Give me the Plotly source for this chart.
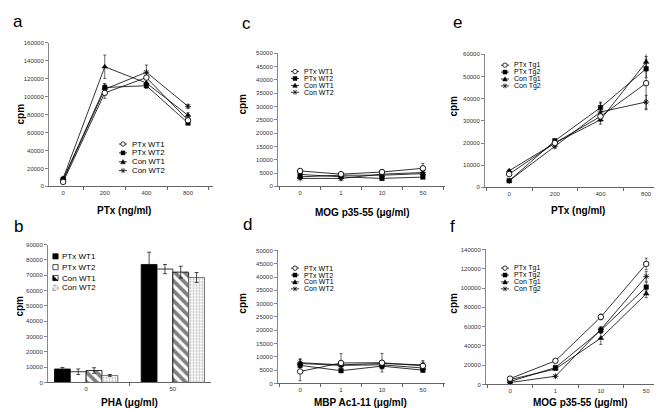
import plotly.graph_objects as go

W, H = 662, 409
def px(x): return x / W
def py(y): return 1 - y / H

# ---------------- data ----------------
series_wt = ["PTx WT1", "PTx WT2", "Con WT1", "Con WT2"]
series_tg = ["PTx Tg1", "PTx Tg2", "Con Tg1", "Con Tg2"]

# panel a: PTx (ng/ml)
a_cats = ["0", "200", "400", "800"]
a_vals = [[5000, 104000, 121000, 73500],
          [8000, 110000, 112000, 70500],
          [9000, 133000, 115000, 79000],
          [7000, 108000, 127000, 89000]]
a_err = [[1500, 6000, 5000, 3000],
         [1000, 4000, 3000, 2000],
         [1500, 13000, 5000, 3000],
         [1000, 6000, 8000, 2000]]

# panel b: PHA (ug/ml), bars
b_cats = ["0", "50"]
b_vals = [[8800, 77000], [7000, 74000], [7800, 72000], [4600, 68500]]
b_err = [[1000, 8000], [1800, 3000], [1800, 3800], [600, 3200]]

# panel c: MOG p35-55
c_cats = ["0", "1", "10", "50"]
c_vals = [[5800, 4600, 5400, 6800],
          [4500, 3600, 3000, 3500],
          [3600, 4200, 4200, 4800],
          [3000, 3000, 4600, 5200]]
c_err = [[500, 400, 800, 1800],
         [400, 400, 400, 500],
         [400, 400, 500, 500],
         [400, 800, 500, 500]]

# panel d: MBP Ac1-11
d_cats = ["0", "1", "10", "50"]
d_vals = [[4500, 7700, 7800, 6600],
          [6800, 4800, 6500, 5000],
          [7500, 6800, 7000, 5800],
          [7800, 7000, 7500, 7000]]
d_err = [[3500, 3500, 3500, 2000],
         [700, 600, 1000, 700],
         [1500, 1000, 1500, 1000],
         [1500, 1000, 1000, 1000]]

# panel e: PTx (ng/ml), Tg
e_cats = ["0", "200", "400", "800"]
e_vals = [[6000, 20000, 32000, 47000],
          [3000, 21000, 36000, 53500],
          [7500, 20000, 30500, 56500],
          [3000, 18500, 34000, 38500]]
e_err = [[600, 1000, 2000, 12000],
         [500, 800, 2500, 4000],
         [600, 800, 2000, 4000],
         [500, 800, 4000, 3000]]

# panel f: MOG p35-55, Tg
f_cats = ["0", "1", "10", "50"]
f_vals = [[6000, 24500, 70000, 125000],
          [3000, 17500, 56000, 101000],
          [5000, 16000, 48000, 94000],
          [2000, 8500, 57000, 112000]]
f_err = [[1000, 1500, 3000, 6000],
         [600, 1500, 3000, 5000],
         [600, 1500, 6500, 4000],
         [500, 1000, 3000, 5000]]

# ---------------- styles ----------------
FONT = "Liberation Sans, Arial, sans-serif"
marker_styles = [
    dict(symbol="circle", size=5.5, color="white", line=dict(color="black", width=0.9)),
    dict(symbol="square", size=4.5, color="black", line=dict(color="black", width=0.5)),
    dict(symbol="triangle-up", size=5, color="black", line=dict(color="black", width=0.5)),
    dict(symbol="asterisk-open", size=5, color="black", line=dict(color="black", width=0.8)),
]

fig = go.Figure()

def add_lines(cats, vals, errs, axn):
    xa = "x" if axn == 1 else f"x{axn}"
    ya = "y" if axn == 1 else f"y{axn}"
    for i in [3, 2, 1, 0]:
        fig.add_trace(go.Scatter(
            x=cats, y=vals[i], mode="lines+markers",
            line=dict(color="black", width=0.8),
            marker=marker_styles[i],
            error_y=dict(type="data", array=errs[i], color="black", thickness=0.6, width=1.5),
            xaxis=xa, yaxis=ya, showlegend=False))

add_lines(a_cats, a_vals, a_err, 1)
add_lines(c_cats, c_vals, c_err, 3)
add_lines(d_cats, d_vals, d_err, 4)
add_lines(e_cats, e_vals, e_err, 5)
add_lines(f_cats, f_vals, f_err, 6)

bar_markers = [
    dict(color="black", line=dict(color="black", width=0.8)),
    dict(color="white", line=dict(color="black", width=0.8)),
    dict(color="white", line=dict(color="black", width=0.8),
         pattern=dict(shape="\\", fgcolor="black", bgcolor="white", size=7, solidity=0.55)),
    dict(color="white", line=dict(color="#555", width=0.8),
         pattern=dict(shape=".", fgcolor="#777", bgcolor="white", size=3, solidity=0.4)),
]
for i in range(4):
    fig.add_trace(go.Bar(
        x=b_cats, y=b_vals[i], name=series_wt[i], marker=bar_markers[i],
        error_y=dict(type="data", array=b_err[i], color="black", thickness=0.7, width=2),
        xaxis="x2", yaxis="y2", showlegend=False))

# ---------------- axes ----------------
panels = {
    # axn: (x0, x1, ytop, ybot, xrange, ymax, dtick)
    1: (41, 205, 32, 178, [-0.34, 3.6], 160000, 20000),
    2: (40, 203, 237, 377, [-0.44, 1.44], 90000, 10000),
    3: (270, 437, 43, 178, [-0.54, 3.54], 50000, 5000),
    4: (270, 437, 243, 378, [-0.54, 3.54], 50000, 5000),
    5: (477, 655, 44, 179, [-0.53, 3.37], 60000, 10000),
    6: (478, 655, 242, 379, [-0.53, 3.37], 140000, 20000),
}
tickfont = dict(family=FONT, size=6, color="#333")
layout = {}
for n, (x0, x1, yt, yb, xr, ymax, dt) in panels.items():
    xk = "xaxis" if n == 1 else f"xaxis{n}"
    yk = "yaxis" if n == 1 else f"yaxis{n}"
    ya = "y" if n == 1 else f"y{n}"
    xa = "x" if n == 1 else f"x{n}"
    layout[xk] = dict(domain=[px(x0), px(x1)], anchor=ya, type="category",
                      range=xr, showline=True, linecolor="#666", linewidth=1,
                      ticks="outside", tickson="boundaries", ticklen=3,
                      tickcolor="#666", tickfont=tickfont, showgrid=False,
                      zeroline=False, fixedrange=True)
    layout[yk] = dict(domain=[py(yb), py(yt)], anchor=xa, range=[0, ymax],
                      dtick=dt, showline=True, linecolor="#888", linewidth=1,
                      ticks="outside", ticklen=3, tickcolor="#888",
                      tickfont=tickfont, showgrid=False, zeroline=False,
                      tickformat="d", fixedrange=True)

fig.update_layout(**layout)
fig.update_layout(width=W, height=H, margin=dict(l=0, r=0, t=0, b=0),
                  paper_bgcolor="white", plot_bgcolor="white",
                  barmode="group", bargap=0.27, bargroupgap=0,
                  font=dict(family=FONT, color="black"))

ann = []
shapes = []
def text(x, y, s, size, bold=False, angle=0, xanchor="center", family=FONT, color="black"):
    ann.append(dict(x=px(x), y=py(y), xref="paper", yref="paper", text=(f"<b>{s}</b>" if bold else s),
                    showarrow=False, font=dict(family=family, size=size, color=color),
                    textangle=angle, xanchor=xanchor, yanchor="middle"))

# panel letters
for (x, y, s) in [(10, 11, "a"), (10, 219, "b"), (238, 13, "c"), (239, 217, "d"), (449, 12, "e"), (444, 219, "f")]:
    text(x, y, s, 17)

# axis titles
for (x, y, s) in [(116, 202, "PTx (ng/ml)"), (121, 397, "PHA (μg/ml)"), (354, 205, "MOG p35-55 (μg/ml)"),
                  (352, 397, "MBP Ac1-11 (μg/ml)"), (570, 202, "PTx (ng/ml)"), (572, 397, "MOG p35-55 (μg/ml)")]:
    text(x, y, s, 10, bold=True)
for (x, y) in [(12, 105), (12, 300), (235, 95), (235, 297), (446, 97), (446, 297)]:
    text(x, y, "cpm", 10, bold=True, angle=-90)

# line legends: small line segment + marker drawn as shapes
def line_legend(mx, tx, ys, names, fs):
    for i, (y, nm) in enumerate(zip(ys, names)):
        shapes.append(dict(type="line", xref="paper", yref="paper", x0=px(mx - 4), x1=px(mx + 4),
                           y0=py(y), y1=py(y), line=dict(color="black", width=0.8)))
        r = 2.2
        if i == 0:
            shapes.append(dict(type="circle", xref="paper", yref="paper", x0=px(mx - r), x1=px(mx + r),
                               y0=py(y + r), y1=py(y - r), fillcolor="white", line=dict(color="black", width=0.8)))
        elif i == 1:
            shapes.append(dict(type="rect", xref="paper", yref="paper", x0=px(mx - 2), x1=px(mx + 2),
                               y0=py(y + 2), y1=py(y - 2), fillcolor="black", line=dict(color="black", width=0.5)))
        elif i == 2:
            shapes.append(dict(type="path", xref="paper", yref="paper",
                               path=f"M{px(mx - 2.3)},{py(y + 2)} L{px(mx + 2.3)},{py(y + 2)} L{px(mx)},{py(y - 2.3)} Z",
                               fillcolor="black", line=dict(color="black", width=0.5)))
        else:
            for (dx, dy) in [(2, 2), (2, -2), (0, 2.5)]:
                shapes.append(dict(type="line", xref="paper", yref="paper", x0=px(mx - dx), x1=px(mx + dx),
                                   y0=py(y - dy), y1=py(y + dy), line=dict(color="black", width=0.7)))
        text(tx, y, nm, fs, xanchor="left")

line_legend(115, 122, [135, 144, 153, 162], series_wt, 7.8)
line_legend(287, 294, [61.5, 68.5, 75.5, 82.5], series_wt, 7)
line_legend(287, 294, [261, 268, 275, 282], series_wt, 7)
line_legend(497, 504, [55, 62, 69, 76], series_tg, 7)
line_legend(497, 504, [261, 268, 275, 282], series_tg, 7)

# bar legend
bys = [249, 260, 271, 281]
sw = 2.6
cx = 47.5
shapes.append(dict(type="rect", xref="paper", yref="paper", x0=px(cx - sw), x1=px(cx + sw),
                   y0=py(bys[0] + sw), y1=py(bys[0] - sw), fillcolor="black", line=dict(color="black", width=0.8)))
shapes.append(dict(type="rect", xref="paper", yref="paper", x0=px(cx - sw), x1=px(cx + sw),
                   y0=py(bys[1] + sw), y1=py(bys[1] - sw), fillcolor="white", line=dict(color="black", width=0.7)))
shapes.append(dict(type="rect", xref="paper", yref="paper", x0=px(cx - sw), x1=px(cx + sw),
                   y0=py(bys[2] + sw), y1=py(bys[2] - sw), fillcolor="white", line=dict(color="black", width=0.7)))
shapes.append(dict(type="path", xref="paper", yref="paper",
                   path=f"M{px(cx - sw)},{py(bys[2] - sw)} L{px(cx + sw)},{py(bys[2] + sw)} L{px(cx - sw)},{py(bys[2] + sw)} Z",
                   fillcolor="black", line=dict(color="black", width=0.3)))
shapes.append(dict(type="rect", xref="paper", yref="paper", x0=px(cx - sw), x1=px(cx + sw),
                   y0=py(bys[3] + sw), y1=py(bys[3] - sw), fillcolor="#e6e6e6", line=dict(color="#777", width=0.7, dash="dot")))
for y, nm in zip(bys, series_wt):
    text(51.5, y, nm, 8, xanchor="left")

fig.update_layout(annotations=ann, shapes=shapes)
fig.write_html("out.html")
